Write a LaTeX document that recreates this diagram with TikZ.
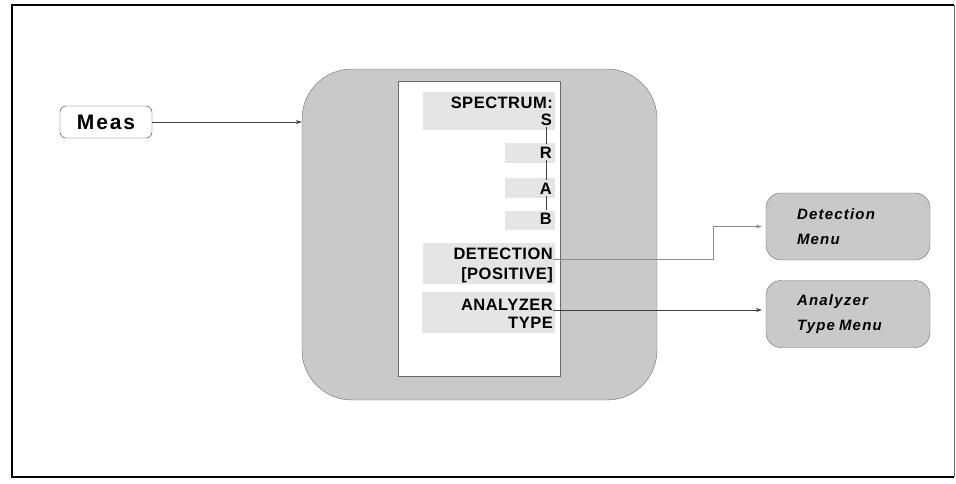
\documentclass[tikz,border=0pt]{standalone}
\usepackage{fontspec}
\setmainfont{Liberation Sans}
\newfontfamily\keyfont[LetterSpace=3]{Liberation Sans}
\newfontfamily\measfont[LetterSpace=9]{Liberation Sans}
\newfontfamily\menufont[LetterSpace=8]{Liberation Sans}
\usepackage{tikz}
\usetikzlibrary{arrows.meta, positioning}
\definecolor{panelgray}{gray}{0.79}
\definecolor{keygray}{gray}{0.9}
\definecolor{edgegray}{gray}{0.42}
\tikzset{
  hardkey/.style          = {rectangle, draw=black!80, fill=white, rounded corners=6pt,
                             minimum width=92pt, minimum height=32pt, inner sep=0pt,
                             font=\measfont\bfseries\fontsize{21}{22}\selectfont},
  panel/.style            = {rectangle, draw=edgegray, fill=panelgray, rounded corners=50pt,
                             minimum width=355pt, minimum height=331pt},
  keycol/.style           = {rectangle, draw=edgegray, fill=white,
                             minimum width=162pt, minimum height=295pt},
  keylabel/.style         = {anchor=base east, inner sep=0pt,
                             font=\keyfont\bfseries\fontsize{16.5}{18}\selectfont},
  keybg/.style            = {fill=keygray},
  menubox/.style          = {rectangle, draw=edgegray, fill=panelgray, rounded corners=15pt,
                             minimum width=164pt, minimum height=67pt, inner xsep=31pt,
                             text width=102pt, align=left,
                             font=\menufont\bfseries\itshape\fontsize{15}{25}\selectfont},
  tick/.style             = {draw=black!75, line width=0.5pt, shorten <=2pt, shorten >=2pt},
  arrow/.style            = {-{Stealth[length=6pt, width=4pt]}, draw=black!75, line width=0.6pt}
}

\begin{document}
\begin{tikzpicture}[x=1pt, y=-1pt]
  \useasboundingbox (0,0) rectangle (956,483);
  \draw[line width=2pt] (954,5) -- (12,5) -- (12,477) -- (954,477);
  \draw[edgegray, line width=0.6pt] (954,5) -- (954,477);

  \node[hardkey] (meas)  at (106,122)   {Meas};
  \node[panel]   (panel) at (479.5,234.5) {};
  \node[keycol]  (keys)  at (479,228.5)  {};

  \fill[keybg] (423,92)  rectangle (555,130);
  \fill[keybg] (505,143) rectangle (555,163);
  \fill[keybg] (505,178) rectangle (555,198);
  \fill[keybg] (505,211) rectangle (555,230);
  \fill[keybg] (423,243) rectangle (555,284);
  \fill[keybg] (422,292) rectangle (555,333);

  \node[keylabel] (spec)   at (553,108) {SPECTRUM:};
  \node[keylabel] (specS)  at (552,125) {S};
  \node[keylabel] (specR)  at (552,158) {R};
  \node[keylabel] (specA)  at (552,194) {A};
  \node[keylabel] (specB)  at (552,224) {B};
  \node[keylabel] (det)    at (553,259) {DETECTION};
  \node[keylabel] (detpos) at (553,279) {[POSITIVE]};
  \node[keylabel] (ana)    at (553,310) {ANALYZER};
  \node[keylabel] (anatyp) at (553,328) {TYPE};
  \draw[tick] (specS.south) -- (specS.south |- specR.north);
  \draw[tick] (specR.south) -- (specR.south |- specA.north);
  \draw[tick] (specA.south) -- (specA.south |- specB.north);

  \node[menubox] (detmenu) at (848,226.5) {Detection\\Menu};
  \node[menubox] (anamenu) at (848,314)   {Analyzer\\Type\hspace{4pt}Menu};

  \coordinate (bend) at (713,0);
  \draw[arrow] (meas.east) -- (panel.west |- meas.east);
  \draw[arrow, draw=black!45, line width=0.9pt] (det.base east) -| (bend |- detmenu.west) -- ([xshift=-4pt]detmenu.west);
  \draw[arrow] (ana.base east) -- ([xshift=-4pt]anamenu.west |- ana.base east);
\end{tikzpicture}
\end{document}
